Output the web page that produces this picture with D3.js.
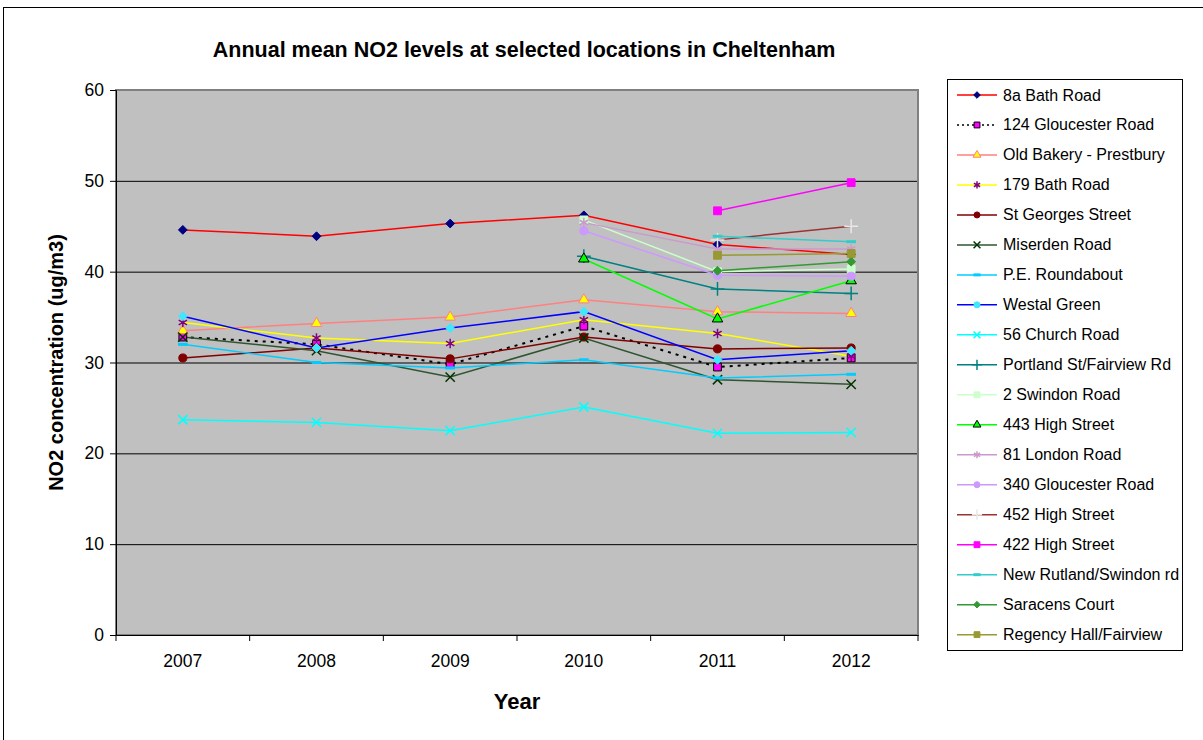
<!DOCTYPE html>
<html>
<head>
<meta charset="utf-8">
<script src="https://cdn.jsdelivr.net/npm/d3@7"></script>
<style>
  html, body { margin: 0; padding: 0; background: #fff; }
  svg { display: block; font-family: "Liberation Sans", Arial, sans-serif; }
</style>
</head>
<body>
<svg id="chart" width="1203" height="740"></svg>
<script>
// ---------- data ----------
const years = ["2007", "2008", "2009", "2010", "2011", "2012"];
const yTicks = [0, 10, 20, 30, 40, 50, 60];

const bath8a       = [44.6, 43.9, 45.3, 46.2, 43.0, 41.9];
const glouc124     = [32.8, 32.0, 29.8, 34.0, 29.5, 30.5];
const oldBakery    = [33.5, 34.3, 35.0, 36.9, 35.6, 35.4];
const bath179      = [34.4, 32.7, 32.1, 34.7, 33.2, 30.7];
const stGeorges    = [30.5, 31.6, 30.4, 32.8, 31.5, 31.6];
const miserden     = [32.8, 31.3, 28.4, 32.7, 28.1, 27.6];
const peRoundabout = [32.0, 30.0, 29.4, 30.3, 28.3, 28.7];
const westalGreen  = [35.1, 31.6, 33.8, 35.6, 30.3, 31.3];
const church56     = [23.7, 23.4, 22.5, 25.1, 22.2, 22.3];
const portland     = [null, null, null, 41.7, 38.1, 37.6];
const swindon2     = [null, null, null, 45.7, 40.0, 40.3];
const high443      = [null, null, null, 41.4, 34.8, 39.0];
const london81     = [null, null, null, 45.4, 42.5, 42.5];
const glouc340     = [null, null, null, 44.5, 39.6, 39.5];
const high452      = [null, null, null, null, 43.5, 45.0];
const high422      = [null, null, null, null, 46.7, 49.8];
const newRutland   = [null, null, null, null, 43.9, 43.3];
const saracens     = [null, null, null, null, 40.1, 41.1];
const regency      = [null, null, null, null, 41.8, 42.0];

const seriesNames = ["8a Bath Road", "124 Gloucester Road", "Old Bakery - Prestbury", "179 Bath Road",
  "St Georges Street", "Miserden Road", "P.E. Roundabout", "Westal Green", "56  Church Road",
  "Portland St/Fairview Rd", "2 Swindon Road", "443 High Street", "81 London Road",
  "340 Gloucester Road", "452 High Street", "422 High Street", "New Rutland/Swindon rd",
  "Saracens Court", "Regency Hall/Fairview"];
const seriesValues = [bath8a, glouc124, oldBakery, bath179, stGeorges, miserden, peRoundabout,
  westalGreen, church56, portland, swindon2, high443, london81, glouc340, high452, high422,
  newRutland, saracens, regency];

// ---------- styles ----------
const styles = [
  {line: "#FF0000", marker: "diamond", fill: "#000080", stroke: "#000080"},
  {line: "#000000", dash: "3,5", marker: "square", fill: "#FF00FF", stroke: "#000000"},
  {line: "#FF8080", marker: "triangle", fill: "#FFFF00", stroke: "#FF8080"},
  {line: "#FFFF00", marker: "asterisk", fill: "none", stroke: "#800080"},
  {line: "#800000", marker: "circle", fill: "#800000", stroke: "#800000"},
  {line: "#2F5530", marker: "times", fill: "none", stroke: "#003300"},
  {line: "#00CCFF", marker: "dash", fill: "none", stroke: "#00CCFF"},
  {line: "#0000FF", marker: "diamond", fill: "#40E8FF", stroke: "#40E8FF", legendMarker: "circle"},
  {line: "#00FFFF", marker: "times", fill: "none", stroke: "#00FFFF"},
  {line: "#008080", marker: "plus", fill: "none", stroke: "#008080"},
  {line: "#CCFFCC", marker: "square", fill: "#CCFFCC", stroke: "#CCFFCC"},
  {line: "#00FF00", marker: "triangle", fill: "#00FF00", stroke: "#000000"},
  {line: "#CC99CC", marker: "asterisk", fill: "none", stroke: "#CC99CC"},
  {line: "#CC99FF", marker: "circle", fill: "#CC99FF", stroke: "#CC99FF"},
  {line: "#993333", marker: "plus", fill: "none", stroke: "#E8E8E8"},
  {line: "#FF00FF", marker: "square", fill: "#FF00FF", stroke: "#FF00FF"},
  {line: "#33CCCC", marker: "dash", fill: "none", stroke: "#33CCCC"},
  {line: "#339933", marker: "diamond", fill: "#339933", stroke: "#339933"},
  {line: "#999933", marker: "square", fill: "#999933", stroke: "#999933"}
];

// ---------- layout ----------
const svg = d3.select("#chart");
const plot = {left: 116, right: 918, top: 90, bottom: 635};

// outer chart frame
svg.append("rect").attr("x", 3.5).attr("y", 7.5).attr("width", 1210).attr("height", 740)
  .attr("fill", "#fff").attr("stroke", "#000").attr("stroke-width", 1);

const x = d3.scaleBand().domain(years).range([plot.left, plot.right]);
const y = d3.scaleLinear().domain([0, 60]).range([plot.bottom, plot.top]);
const cx = d => x(d) + x.bandwidth() / 2;

// plot background
svg.append("rect").attr("x", plot.left).attr("y", plot.top)
  .attr("width", plot.right - plot.left).attr("height", plot.bottom - plot.top)
  .attr("fill", "#C0C0C0");

// gridlines
svg.append("g").selectAll("line").data(yTicks.filter(t => t > 0 && t < 60)).join("line")
  .attr("x1", plot.left).attr("x2", plot.right)
  .attr("y1", d => y(d) + 0.5).attr("y2", d => y(d) + 0.5)
  .attr("stroke", "#000").attr("stroke-width", 1);

// plot border
svg.append("rect").attr("x", plot.left).attr("y", plot.top)
  .attr("width", plot.right - plot.left).attr("height", plot.bottom - plot.top)
  .attr("fill", "none").attr("stroke", "#808080").attr("stroke-width", 2);

// y axis
const yAxis = d3.axisLeft(y).tickValues(yTicks).tickSize(6).tickPadding(6).tickFormat(d3.format("d"));
const gy = svg.append("g").attr("transform", `translate(${plot.left},0)`).call(yAxis);
gy.select(".domain").attr("stroke", "#000");
gy.selectAll(".tick line").attr("stroke", "#000");
gy.selectAll("text").attr("font-size", 17.5).attr("fill", "#000")
  .attr("font-family", "Liberation Sans, Arial, sans-serif");

// x axis (category labels centered, ticks at band edges)
const xAxis = d3.axisBottom(x).tickSize(0).tickPadding(20);
const gx = svg.append("g").attr("transform", `translate(0,${plot.bottom})`).call(xAxis);
gx.select(".domain").attr("stroke", "#000");
gx.selectAll("text").attr("font-size", 17.5).attr("fill", "#000")
  .attr("font-family", "Liberation Sans, Arial, sans-serif");
const edges = years.map(d => x(d)).concat([x(years[years.length - 1]) + x.bandwidth()]);
svg.append("g").selectAll("line").data(edges).join("line")
  .attr("x1", d => d).attr("x2", d => d)
  .attr("y1", plot.bottom).attr("y2", plot.bottom + 6)
  .attr("stroke", "#000");

// titles
svg.append("text").attr("x", 524).attr("y", 57).attr("text-anchor", "middle")
  .attr("font-size", 21.5).attr("font-weight", "bold")
  .text("Annual mean NO2 levels at selected locations in Cheltenham");
svg.append("text").attr("x", 517).attr("y", 709).attr("text-anchor", "middle")
  .attr("font-size", 22).attr("font-weight", "bold").text("Year");
svg.append("text").attr("transform", `translate(63,${(plot.top + plot.bottom) / 2}) rotate(-90)`)
  .attr("text-anchor", "middle").attr("font-size", 20).attr("font-weight", "bold")
  .text("NO2 concentration (ug/m3)");

// marker drawing
function drawMarker(g, type, st, size) {
  const s = size;
  if (type === "dash") {
    g.append("line").attr("x1", -s * 0.6).attr("x2", s * 0.6).attr("y1", 0).attr("y2", 0)
      .attr("stroke", st.stroke).attr("stroke-width", 3);
    return;
  }
  if (type === "diamond") {
    const h = s * 0.55;
    g.append("path").attr("d", `M0,${-h}L${h},0L0,${h}L${-h},0Z`)
      .attr("fill", st.fill).attr("stroke", st.stroke).attr("stroke-width", 1);
    return;
  }
  const map = {
    square: d3.symbolSquare, triangle: d3.symbolTriangle,
    circle: d3.symbolCircle, times: d3.symbolTimes, plus: d3.symbolPlus, asterisk: d3.symbolAsterisk
  };
  const area = {square: s * s * 0.95, triangle: s * s * 0.75,
    circle: s * s * 0.8, times: s * s * 0.9, plus: s * s * 1.0, asterisk: s * s * 1.0}[type];
  const stroked = (type === "times" || type === "plus" || type === "asterisk");
  g.append("path").attr("d", d3.symbol(map[type], area)())
    .attr("fill", stroked ? "none" : st.fill)
    .attr("stroke", st.stroke).attr("stroke-width", stroked ? 1.5 : 1);
}

// series
const line = d3.line().defined(d => d.v != null).x(d => cx(d.year)).y(d => y(d.v));
const gSeries = svg.append("g");
seriesValues.forEach((vals, i) => {
  const st = styles[i];
  const pts = vals.map((v, j) => ({year: years[j], v}));
  gSeries.append("path").datum(pts).attr("d", line)
    .attr("fill", "none").attr("stroke", st.line)
    .attr("stroke-width", st.dash ? 2 : 1.5)
    .attr("stroke-dasharray", st.dash || null);
});
seriesValues.forEach((vals, i) => {
  const st = styles[i];
  vals.forEach((v, j) => {
    if (v == null) return;
    const g = gSeries.append("g").attr("transform", `translate(${cx(years[j])},${y(v)})`);
    drawMarker(g, st.marker, st, 8);
  });
});

// legend
const lg = {x: 947.5, y: 79.5, w: 235, h: 571, first: 95, step: 29.98};
svg.append("rect").attr("x", lg.x).attr("y", lg.y).attr("width", lg.w).attr("height", lg.h)
  .attr("fill", "#fff").attr("stroke", "#000");
seriesNames.forEach((name, i) => {
  const st = styles[i];
  const yy = lg.first + i * lg.step;
  const g = svg.append("g").attr("transform", `translate(0,${yy})`);
  g.append("line").attr("x1", 957).attr("x2", 997).attr("y1", 0).attr("y2", 0)
    .attr("stroke", st.line).attr("stroke-width", 1.5)
    .attr("stroke-dasharray", st.dash ? "2,3" : null);
  const m = g.append("g").attr("transform", "translate(977,0)");
  drawMarker(m, st.legendMarker || st.marker, st, 6);
  g.append("text").attr("x", 1003).attr("y", 5.5).attr("font-size", 16).attr("fill", "#000")
    .text(name);
});
</script>
</body>
</html>
